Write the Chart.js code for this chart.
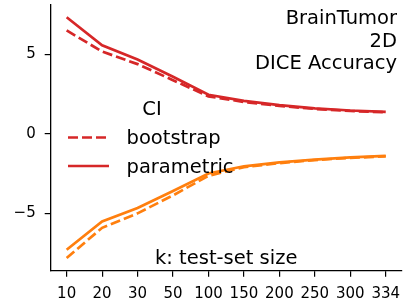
<!DOCTYPE html>
<html>
<head>
<meta charset="utf-8">
<script src="https://cdn.jsdelivr.net/npm/chart.js@4"></script>
<style>
  html, body { margin: 0; padding: 0; background: #fff; }
  #wrap { width: 406px; height: 305px; }
</style>
</head>
<body>
<div id="wrap"><canvas id="chart" width="406" height="305"></canvas></div>
<script>
// k: test-set size
const sizes = ['10', '20', '30', '50', '100', '150', '200', '250', '300', '334'];

// upper / lower CI bounds
const upperParametric = [7.33, 5.57, 4.67, 3.58, 2.45, 2.07, 1.80, 1.59, 1.46, 1.38];
const upperBootstrap = [6.50, 5.17, 4.38, 3.37, 2.35, 2.00, 1.75, 1.56, 1.43, 1.35];
const lowerParametric = [-7.30, -5.52, -4.67, -3.60, -2.50, -2.05, -1.80, -1.63, -1.49, -1.40];
const lowerBootstrap = [-7.82, -5.92, -5.01, -3.88, -2.65, -2.10, -1.85, -1.66, -1.52, -1.43];

const yTicks = [-5, 0, 5];

const RED = '#d62728';
const ORANGE = '#ff7f0e';
const FONT = "'DejaVu Sans', sans-serif";

/** @param {number[]} arr */
function pts(arr) {
    return arr.map((v, i) => ({ x: i, y: v }));
}

function line(data, color, dashed) {
    return {
        data: pts(data),
        borderColor: color,
        borderWidth: 2.7,
        borderDash: dashed ? [10, 4] : [],
        pointRadius: 0,
        fill: false,
        tension: 0,
    };
}

const annotate = {
    id: 'annotate',
    afterDraw(chart) {
        const ctx = chart.ctx;
        const area = chart.chartArea;
        ctx.save();
        ctx.fillStyle = '#000';
        ctx.font = '19.5px ' + FONT;
        ctx.textBaseline = 'alphabetic';

        // title block, top right
        ctx.textAlign = 'right';
        ctx.fillText('BrainTumor', 397, 24);
        ctx.fillText('2D', 397, 46.5);
        ctx.fillText('DICE Accuracy', 397, 69);

        // x label inside the axes
        ctx.textAlign = 'center';
        ctx.fillText('k: test-set size', (area.left + area.right) / 2, 264);

        // legend
        ctx.fillText('CI', 152, 115);
        ctx.textAlign = 'left';
        const entries = [
            { label: 'bootstrap', dash: [10, 4], y: 137.5 },
            { label: 'parametric', dash: [], y: 166 },
        ];
        entries.forEach(e => {
            ctx.beginPath();
            ctx.strokeStyle = RED;
            ctx.lineWidth = 2.7;
            ctx.setLineDash(e.dash);
            ctx.moveTo(68, e.y);
            ctx.lineTo(109, e.y);
            ctx.stroke();
            ctx.setLineDash([]);
            ctx.fillText(e.label, 126.5, e.y + 6.8);
        });
        ctx.restore();
    },
};

new Chart(document.getElementById('chart'), {
    type: 'line',
    data: {
        datasets: [
            line(upperBootstrap, RED, true),
            line(upperParametric, RED, false),
            line(lowerBootstrap, ORANGE, true),
            line(lowerParametric, ORANGE, false),
        ],
    },
    options: {
        responsive: false,
        animation: false,
        devicePixelRatio: 1,
        layout: { padding: { top: 5, right: 4.3, left: 0, bottom: 0 } },
        plugins: { legend: { display: false }, tooltip: { enabled: false } },
        scales: {
            x: {
                type: 'linear',
                min: -0.45,
                max: 9.45,
                afterBuildTicks: axis => { axis.ticks = sizes.map((_, i) => ({ value: i })); },
                afterFit: s => { s.height = 34.3; s.paddingLeft = 0; s.paddingRight = 0; },
                ticks: {
                    callback: v => sizes[v],
                    color: '#000',
                    font: { family: FONT, size: 15 },
                    padding: 8,
                    maxRotation: 0,
                    autoSkip: false,
                },
                grid: { drawOnChartArea: false, drawTicks: true, tickLength: 6, color: '#000', lineWidth: 1.2 },
                border: { display: true, color: '#000', width: 1.3 },
            },
            y: {
                min: -8.62,
                max: 8.1,
                afterBuildTicks: axis => { axis.ticks = yTicks.map(v => ({ value: v })); },
                afterFit: s => { s.width = 50.7; s.paddingTop = 0; s.paddingBottom = 0; },
                ticks: {
                    callback: v => (v < 0 ? '\u2212' + Math.abs(v) : String(v)),
                    color: '#000',
                    font: { family: FONT, size: 15 },
                    padding: 9,
                },
                grid: { drawOnChartArea: false, drawTicks: true, tickLength: 6, color: '#000', lineWidth: 1.2 },
                border: { display: true, color: '#000', width: 1.3 },
            },
        },
    },
    plugins: [annotate],
});
</script>
</body>
</html>
